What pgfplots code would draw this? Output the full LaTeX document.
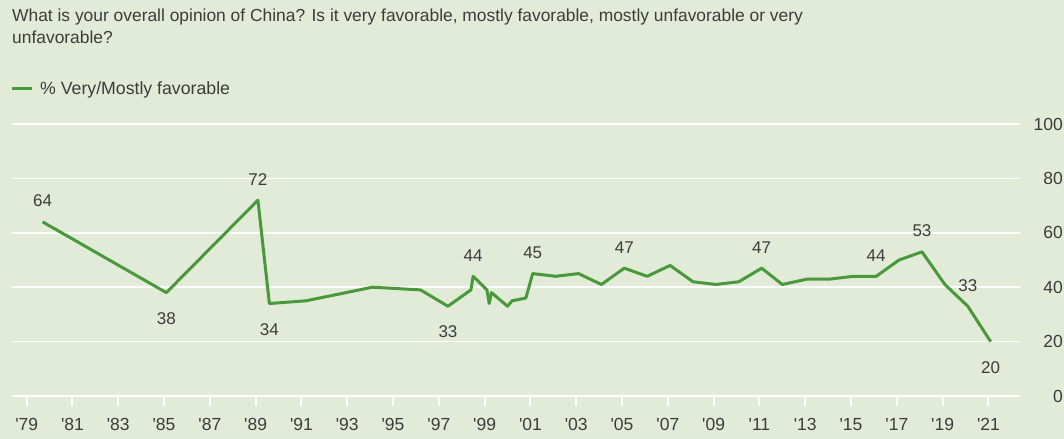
\documentclass[border=0pt]{standalone}
\usepackage{pgfplots}
\pgfplotsset{compat=1.18}
\usepackage{fontspec}
\setmainfont{Liberation Sans}
\newfontfamily\tf{Liberation Sans}
\definecolor{bg}{RGB}{226,235,216}
\definecolor{lgreen}{RGB}{74,152,60}
\definecolor{txt}{RGB}{60,60,60}
\definecolor{axgray}{RGB}{196,202,194}
\begin{document}
\begin{tikzpicture}
\fill[bg] (0bp,0bp) rectangle (1064bp,439bp);
\node[anchor=base west, inner sep=0pt, text=txt, font=\tf\fontsize{17.4bp}{20bp}\selectfont] at (12bp,417bp) {What is your overall opinion of China? Is it very favorable, mostly favorable, mostly unfavorable or very};
\node[anchor=base west, inner sep=0pt, text=txt, font=\tf\fontsize{17.4bp}{20bp}\selectfont] at (12bp,395bp) {unfavorable?};
\begin{axis}[
  at={(12bp,43bp)}, anchor=south west,
  scale only axis, width=1008bp, height=272bp,
  xmin=1978.36, xmax=2022.38, ymin=0, ymax=100,
  clip=false,
  axis line style={draw=none},
  xtick={1979,1981,...,2021},
  xticklabels={'79,'81,'83,'85,'87,'89,'91,'93,'95,'97,'99,'01,'03,'05,'07,'09,'11,'13,'15,'17,'19,'21},
  xtick pos=bottom,
  tick align=outside,
  major tick length=10bp,
  every x tick/.style={white, line width=2bp},
  every y tick/.style={draw=none},
  xticklabel style={font=\tf\fontsize{17.5bp}{20bp}\selectfont, text=txt, anchor=base, inner sep=0pt, yshift=-24.5bp},
  ytick={20,40,60,80,100},
  yticklabels={20,40,60,80,100},
  extra y ticks={0},
  extra y tick labels={0},
  extra y tick style={grid style={draw=axgray, line width=1.5bp}},
  yticklabel pos=right,
  yticklabel style={font=\tf\fontsize{17.5bp}{20bp}\selectfont, text=txt, anchor=east, inner sep=0pt, xshift=33bp},
  ymajorgrids,
  major grid style={white, line width=1.5bp},
  legend style={at={(0,1.129)}, anchor=west, xshift=-2bp, draw=none, fill=none, inner sep=0pt,
    font=\tf\fontsize{17.7bp}{20bp}\selectfont, text=txt},
  legend cell align=left,
  legend image code/.code={\draw[#1] (0bp,0bp) -- (20bp,0bp);},
]
\addplot[lgreen, line width=3bp, line join=round] coordinates {
(1979.7,64) (1985.1,38) (1989.1,72) (1989.6,34) (1991.2,35) (1994.1,40)
(1996.2,39) (1997.4,33) (1998.4,39) (1998.5,44) (1999.1,39) (1999.2,34)
(1999.3,38) (2000.0,33) (2000.2,35) (2000.8,36) (2001.1,45) (2002.1,44)
(2003.1,45) (2004.1,41) (2005.1,47) (2006.1,44) (2007.1,48) (2008.1,42)
(2009.1,41) (2010.1,42) (2011.1,47) (2012.0,41) (2013.1,43) (2014.1,43)
(2015.1,44) (2016.1,44) (2017.1,50) (2018.1,53) (2019.1,41) (2020.1,33)
(2021.1,20)
};
\addlegendentry{\hspace{5bp}\% Very/Mostly favorable}
\addplot[draw=none, mark=none, forget plot, nodes near coords, point meta=explicit symbolic,
  every node near coord/.append style={anchor=base, yshift=15bp, inner sep=0pt, text=txt, font=\tf\fontsize{17bp}{20bp}\selectfont}]
coordinates {
(1979.7,64) [64] (1989.1,72) [72] (1998.5,44) [44] (2001.1,45) [45]
(2005.1,47) [47] (2011.1,47) [47] (2016.1,44) [44] (2018.1,53) [53] (2020.1,33) [33]
};
\addplot[draw=none, mark=none, forget plot, nodes near coords, point meta=explicit symbolic,
  every node near coord/.append style={anchor=base, yshift=-31.7bp, inner sep=0pt, text=txt, font=\tf\fontsize{17bp}{20bp}\selectfont}]
coordinates {
(1985.1,38) [38] (1989.6,34) [34] (1997.4,33) [33] (2021.1,20) [20]
};
\end{axis}
\pgfresetboundingbox
\useasboundingbox (0bp,0bp) rectangle (1064bp,439bp);
\end{tikzpicture}
\end{document}
